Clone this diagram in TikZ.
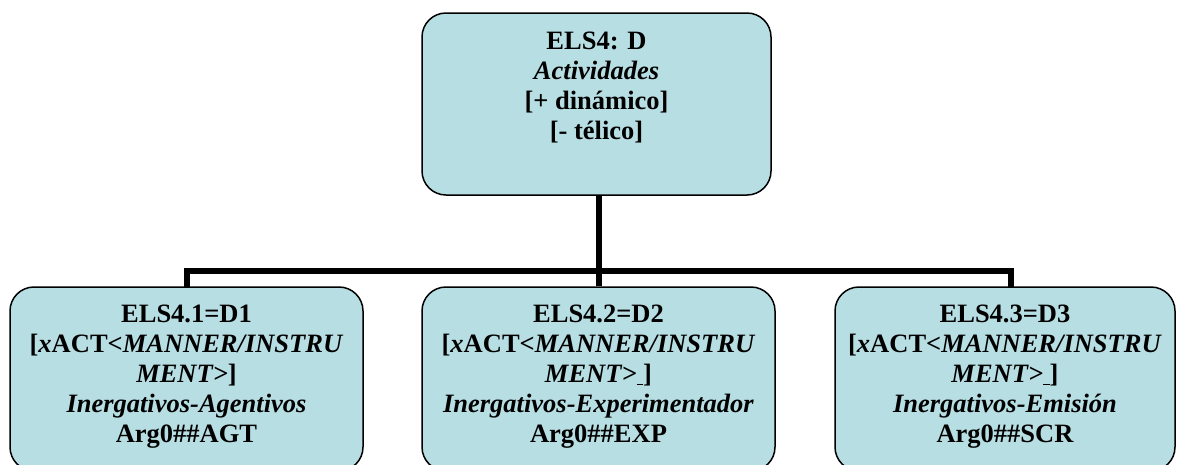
\documentclass[tikz,border=0pt]{standalone}
\usepackage{fontspec}
\setmainfont{Liberation Serif}
\definecolor{boxfill}{RGB}{183,222,227}
\tikzset{
  box/.style={draw=black, line width=1.5pt, fill=boxfill, rounded corners=24pt, inner sep=0pt},
  lbl/.style={font=\fontsize{26.5}{30}\selectfont\bfseries, align=center, inner sep=0pt},
  conn/.style={draw=black, line width=6pt}
}
\begin{document}
\begin{tikzpicture}[x=1pt,y=-1pt]
\useasboundingbox (0,0) rectangle (1177,464);
\clip (0,0) rectangle (1177,464);
% boxes
\node[box, minimum width=349pt, minimum height=182pt] (top) at (596.5,104) {};
\node[box, minimum width=353pt, minimum height=184pt] (b1) at (186.5,379) {};
\node[box, minimum width=353pt, minimum height=184pt] (b2) at (598.5,379) {};
\node[box, minimum width=340pt, minimum height=184pt] (b3) at (1005,379) {};
% texts
\node[lbl] (ttop) at (596.5,87) {ELS4: D\\\textit{Actividades}\\{[}+ dinámico]\\{[}- télico]};
\node[lbl] (t1) at (186.5,377) {ELS4.1=D1\\{[}\textit{x}ACT\textit{<MANNER/INSTRU}\\\textit{MENT>}]\\\textit{Inergativos-Agentivos}\\Arg0\#\#AGT};
\node[lbl] (t2) at (598.5,377) {ELS4.2=D2\\{[}\textit{x}ACT\textit{<MANNER/INSTRU}\\\textit{MENT>}\underline{\ }]\\\textit{Inergativos-Experimentador}\\Arg0\#\#EXP};
\node[lbl] (t3) at (1005,377) {ELS4.3=D3\\{[}\textit{x}ACT\textit{<MANNER/INSTRU}\\\textit{MENT>}\underline{\ }]\\\textit{Inergativos-Emisión}\\Arg0\#\#SCR};
% connectors
\coordinate (bus) at (599,271);
\coordinate (c1) at (187,287);
\coordinate (c3) at (1010.5,287);
\draw[conn] ([xshift=2.5pt]top.south) -- ([xshift=2.5pt]top.south |- bus);
\draw[conn] (c1) -- (c1 |- bus) -- (c3 |- bus) -- (c3);
\draw[conn] (b2.north) -- (b2.north |- bus);
\end{tikzpicture}
\end{document}
